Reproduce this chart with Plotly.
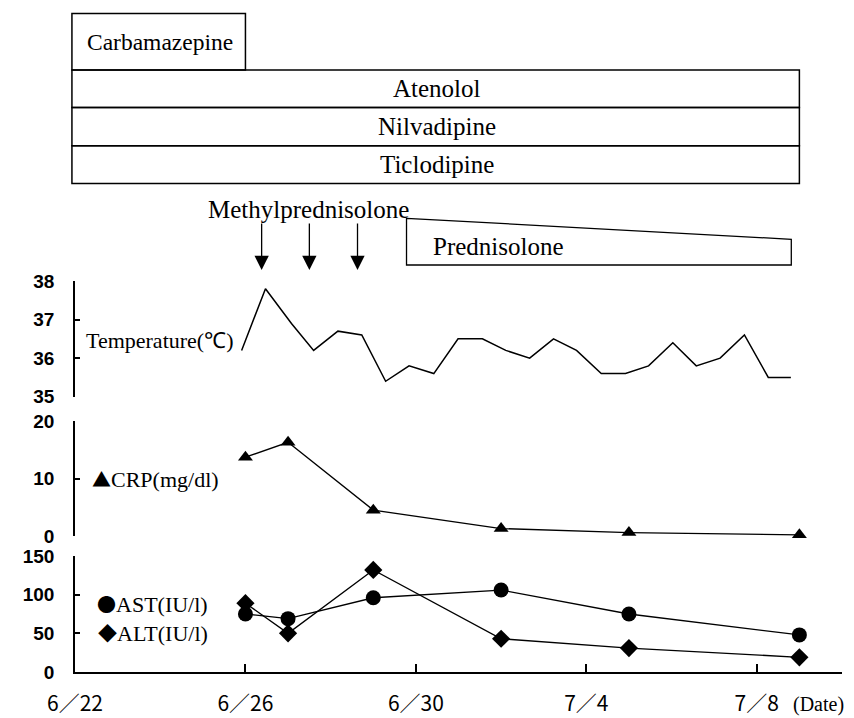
import plotly.graph_objects as go

# ---------------- data ----------------
date_tickvals = [0, 4, 8, 12, 16]              # days since 6/22
date_ticktext = ["6／22", "6／26", "6／30", "7／4", "7／8"]

temp_day = [3.91, 4.47, 5.08, 5.60, 6.17, 6.73, 7.29, 7.84, 8.42, 8.99, 9.56, 10.11,
            10.67, 11.23, 11.77, 12.35, 12.92, 13.46, 14.03, 14.58, 15.14, 15.71, 16.27, 16.80]
temp_c = [36.2, 37.8, 36.9, 36.2, 36.7, 36.6, 35.4, 35.8, 35.6, 36.5, 36.5, 36.2,
          36.0, 36.5, 36.2, 35.6, 35.6, 35.8, 36.4, 35.8, 36.0, 36.6, 35.5, 35.5]

lab_day = [4, 5, 7, 10, 13, 17]
crp = [13.7, 16.3, 4.5, 1.3, 0.6, 0.2]
ast = [75, 69, 96, 106, 75, 48]
alt = [89, 50, 132, 43, 31, 19]

drug_names = ["Carbamazepine", "Atenolol", "Nilvadipine", "Ticlodipine"]
drug_start = [0, 0, 0, 0]
drug_end = [4, 17, 17, 17]

mpsl_days = [4.38, 5.5, 6.63]
psl_start = 7.78
psl_end = 16.81

# ---------------- geometry ----------------
W, H = 854, 718
ML, MR, MT, MB = 75, 12, 10, 46
PW = W - ML - MR
PH = H - MT - MB
X_RANGE = [0, 18]


def yp(px):
    return (H - MB - px) / PH


def xp(day):
    return (day - X_RANGE[0]) / (X_RANGE[1] - X_RANGE[0])


def xpx(px):
    return (px - ML) / PW


SERIF = "Times New Roman, Liberation Serif, serif"
SANS = "Arial, Liberation Sans, sans-serif"
CJK = "Noto Sans CJK JP"


def sym(ch, size):
    return f"<span style='font-family:{CJK};font-size:{size}px'>{ch}</span>"


fig = go.Figure()

fig.add_trace(go.Scatter(x=temp_day, y=temp_c, mode="lines", yaxis="y",
                         line=dict(color="black", width=1.5), cliponaxis=False,
                         showlegend=False))
fig.add_trace(go.Scatter(x=lab_day, y=crp, mode="lines+markers", yaxis="y2",
                         line=dict(color="black", width=1.3),
                         marker=dict(symbol="triangle-up", size=13, color="black"),
                         cliponaxis=False, showlegend=False))
fig.add_trace(go.Scatter(x=lab_day, y=ast, mode="lines+markers", yaxis="y3",
                         line=dict(color="black", width=1.3),
                         marker=dict(symbol="circle", size=15, color="black"),
                         cliponaxis=False, showlegend=False))
fig.add_trace(go.Scatter(x=lab_day, y=alt, mode="lines+markers", yaxis="y3",
                         line=dict(color="black", width=1.3),
                         marker=dict(symbol="diamond", size=14, color="black"),
                         cliponaxis=False, showlegend=False))

yaxis_common = dict(anchor="x", showline=True, linecolor="black", linewidth=1.5,
                    ticks="inside", ticklen=5, tickwidth=1.5, tickcolor="black",
                    showgrid=False, zeroline=False, ticklabelstandoff=15,
                    tickfont=dict(family=SANS, size=19, color="black", weight="bold"))

shapes = []
annotations = []

# drug rows
row_top = [13.5, 70, 107.5, 145.7]
row_bot = [70, 107.5, 145.7, 183.5]
row_font = [23.5, 25, 25, 25]
for name, s, e, t, b, fs in zip(drug_names, drug_start, drug_end, row_top, row_bot, row_font):
    shapes.append(dict(type="rect", xref="paper", yref="paper",
                       x0=xp(s) - 0.004, x1=xp(e), y0=yp(b), y1=yp(t),
                       line=dict(color="black", width=1.5), fillcolor="rgba(0,0,0,0)"))
    annotations.append(dict(text=name, xref="paper", yref="paper",
                            x=(xp(s) + xp(e)) / 2, y=yp((t + b) / 2),
                            showarrow=False, xanchor="center", yanchor="middle",
                            font=dict(family=SERIF, size=fs, color="black")))

# methylprednisolone pulses
annotations.append(dict(text="Methylprednisolone", xref="x", yref="paper",
                        x=5.47, y=yp(209), showarrow=False, xanchor="center",
                        yanchor="middle", font=dict(family=SERIF, size=25, color="black")))
for d in mpsl_days:
    annotations.append(dict(text="", xref="x", yref="paper", x=d, y=yp(270),
                            showarrow=True, ax=0, ay=-48, arrowhead=2, arrowsize=2.2,
                            arrowwidth=1.3, arrowcolor="black", standoff=0))

# prednisolone taper
x0p, x1p = xp(psl_start), xp(psl_end)
shapes.append(dict(type="path", xref="paper", yref="paper",
                   path=f"M {x0p},{yp(218.3)} L {x1p},{yp(239.3)} L {x1p},{yp(265)} L {x0p},{yp(265)} Z",
                   line=dict(color="black", width=1.3), fillcolor="rgba(0,0,0,0)"))
annotations.append(dict(text="Prednisolone", xref="paper", yref="paper",
                        x=xp(psl_start) + 24 / PW, y=yp(246), showarrow=False,
                        xanchor="left", yanchor="middle",
                        font=dict(family=SERIF, size=25, color="black")))

# panel labels
annotations += [
    dict(text="Temperature(℃)", xref="paper", yref="paper", x=xpx(84), y=yp(340),
         showarrow=False, xanchor="left", yanchor="middle",
         font=dict(family=SERIF, size=22, color="black")),
    dict(text=sym("▲", 19) + "CRP(mg/dl)", xref="paper", yref="paper", x=xpx(90), y=yp(479),
         showarrow=False, xanchor="left", yanchor="middle",
         font=dict(family=SERIF, size=22, color="black")),
    dict(text=sym("●", 19) + "AST(IU/l)", xref="paper", yref="paper", x=xpx(95), y=yp(603),
         showarrow=False, xanchor="left", yanchor="middle",
         font=dict(family=SERIF, size=22, color="black")),
    dict(text=sym("◆", 19) + "ALT(IU/l)", xref="paper", yref="paper", x=xpx(96), y=yp(632),
         showarrow=False, xanchor="left", yanchor="middle",
         font=dict(family=SERIF, size=22, color="black")),
    dict(text="(Date)", xref="paper", yref="paper", x=xpx(818), y=yp(704),
         showarrow=False, xanchor="center", yanchor="middle",
         font=dict(family=SERIF, size=20, color="black")),
]

fig.update_layout(
    width=W, height=H,
    margin=dict(l=ML, r=MR, t=MT, b=MB, autoexpand=False),
    paper_bgcolor="white", plot_bgcolor="white",
    showlegend=False,
    xaxis=dict(domain=[0, 1], range=X_RANGE, anchor="y3", showline=True,
               linecolor="black", linewidth=1.5, ticks="inside", ticklen=8,
               tickwidth=1.5, tickcolor="black", tickvals=date_tickvals,
               ticktext=date_ticktext, showgrid=False, zeroline=False,
               ticklabelstandoff=12,
               tickfont=dict(family=CJK, size=21, color="black")),
    yaxis=dict(domain=[yp(396.7), yp(281)], range=[35, 38], tickvals=[35, 36, 37, 38],
               **yaxis_common),
    yaxis2=dict(domain=[yp(536), yp(421)], range=[0, 20], tickvals=[0, 10, 20],
                **yaxis_common),
    yaxis3=dict(domain=[0, yp(556)], range=[0, 150], tickvals=[0, 50, 100, 150],
                **yaxis_common),
    shapes=shapes,
    annotations=annotations,
)

fig.write_html("out.html", config={"displayModeBar": False},
               post_script="document.body.style.margin='0';document.body.style.overflow='hidden';")
